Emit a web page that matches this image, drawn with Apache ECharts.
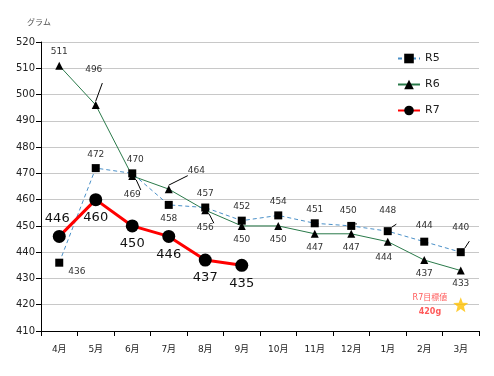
<!DOCTYPE html>
<html>
<head>
<meta charset="utf-8">
<script src="https://cdn.jsdelivr.net/npm/echarts@6/dist/echarts.min.js"></script>
<style>
  html, body { margin: 0; padding: 0; background: #fff; }
  #chart { width: 494px; height: 376px; }
</style>
</head>
<body>
<div id="chart"></div>
<script>
  // 月
  var months = ['4月', '5月', '6月', '7月', '8月', '9月', '10月', '11月', '12月', '1月', '2月', '3月'];
  var r5 = [436, 472, 470, 458, 457, 452, 454, 451, 450, 448, 444, 440];
  var r6 = [511, 496, 469, 464, 456, 450, 450, 447, 447, 444, 437, 433];
  var r7 = [446, 460, 450, 446, 437, 435];
  var target = 420; // R7目標値
  var yTicks = [410, 520, 10];

  var font = 'DejaVu Sans, "Noto Sans CJK JP", sans-serif';

  // ラベル位置 (index: [position, offsetX, offsetY])
  var r5Pos = {0: ['right', 0, 9], 2: ['top', 3, 0], 3: ['bottom', 0, 0], 8: ['top', -3, -2], 9: ['top', 0, -7], 10: ['top', 0, -3], 11: ['top', 0, -11]};
  var r6Pos = {0: ['top', 0, 0], 1: ['top', -2, -22], 2: ['bottom', 0, 5], 3: ['right', 10, -18], 4: ['bottom', 0, 4], 9: ['bottom', -4, 2]};
  var r7Pos = {0: ['top', -2, 0]};
  // 引出線
  var r5Lines = [8, 9, 11];
  var r6Lines = [1, 2, 3, 4];

  function items(vals, pos, def, lines) {
    return vals.map(function (v, i) {
      var p = pos[i] || [def, 0, 0];
      return {
        value: v,
        label: {position: p[0], offset: [p[1], p[2]]},
        labelLine: {show: lines.indexOf(i) >= 0}
      };
    });
  }

  var myChart = echarts.init(document.getElementById('chart'));
  myChart.setOption({
    backgroundColor: '#fff',
    animation: false,
    textStyle: {fontFamily: font},
    grid: {left: 41, right: 15, top: 42, bottom: 45},
    title: {
      text: 'グラム',
      left: 22, top: 14,
      textStyle: {fontSize: 8, color: '#555', fontWeight: 'normal', fontFamily: font}
    },
    legend: {
      orient: 'vertical',
      left: 392, top: 48,
      itemGap: 15,
      itemWidth: 22, itemHeight: 12,
      textStyle: {fontSize: 11, color: '#222', fontFamily: font},
      data: ['R5', 'R6', 'R7']
    },
    xAxis: {
      type: 'category',
      data: months,
      axisLine: {lineStyle: {color: '#000'}},
      axisTick: {show: true, alignWithLabel: false, lineStyle: {color: '#000'}},
      axisLabel: {color: '#222', fontSize: 9, margin: 14, fontFamily: font}
    },
    yAxis: {
      type: 'value',
      min: yTicks[0], max: yTicks[1], interval: yTicks[2],
      axisLine: {show: true, lineStyle: {color: '#000'}},
      axisTick: {show: true, lineStyle: {color: '#000'}},
      axisLabel: {color: '#222', fontSize: 10, margin: 6, fontFamily: font},
      splitLine: {lineStyle: {color: '#c8c8c8'}}
    },
    series: [
      {
        name: 'R5',
        type: 'line',
        data: items(r5, r5Pos, 'top', r5Lines),
        symbol: 'rect', symbolSize: 8,
        itemStyle: {color: '#000'},
        lineStyle: {color: '#4a90c8', width: 1, type: [4, 3]},
        label: {show: true, fontSize: 9, color: '#333', distance: 5},
        labelLine: {lineStyle: {color: '#000', width: 1}},
        z: 3
      },
      {
        name: 'R6',
        type: 'line',
        data: items(r6, r6Pos, 'bottom', r6Lines),
        symbol: 'triangle', symbolSize: 8,
        itemStyle: {color: '#000'},
        lineStyle: {color: '#2a7a4a', width: 1},
        label: {show: true, fontSize: 9, color: '#333', distance: 5},
        labelLine: {lineStyle: {color: '#000', width: 1}},
        z: 2
      },
      {
        name: 'R7',
        type: 'line',
        data: items(r7, r7Pos, 'bottom', []),
        symbol: 'circle', symbolSize: 13,
        itemStyle: {color: '#000'},
        lineStyle: {color: '#ff0000', width: 3},
        label: {show: true, fontSize: 13, color: '#111', distance: 5},
        z: 4
      },
      {
        name: '目標',
        type: 'scatter',
        data: [[months.length - 1, target]],
        symbol: 'path://M12,1 L14.9,8.6 L23,9 L16.7,14.1 L18.8,22 L12,17.5 L5.2,22 L7.3,14.1 L1,9 L9.1,8.6 Z',
        symbolSize: 15,
        itemStyle: {color: '#ffc000'},
        label: {
          show: true,
          position: 'left',
          distance: 6,
          formatter: '{a|R7目標値}\n{b|' + target + 'g}',
          rich: {
            a: {fontSize: 8, color: '#ff3030', fontFamily: font, lineHeight: 14, align: 'center'},
            b: {fontSize: 8, color: '#ff3030', fontWeight: 'bold', fontFamily: font, lineHeight: 14, align: 'center'}
          }
        },
        z: 5
      }
    ]
  });
</script>
</body>
</html>
